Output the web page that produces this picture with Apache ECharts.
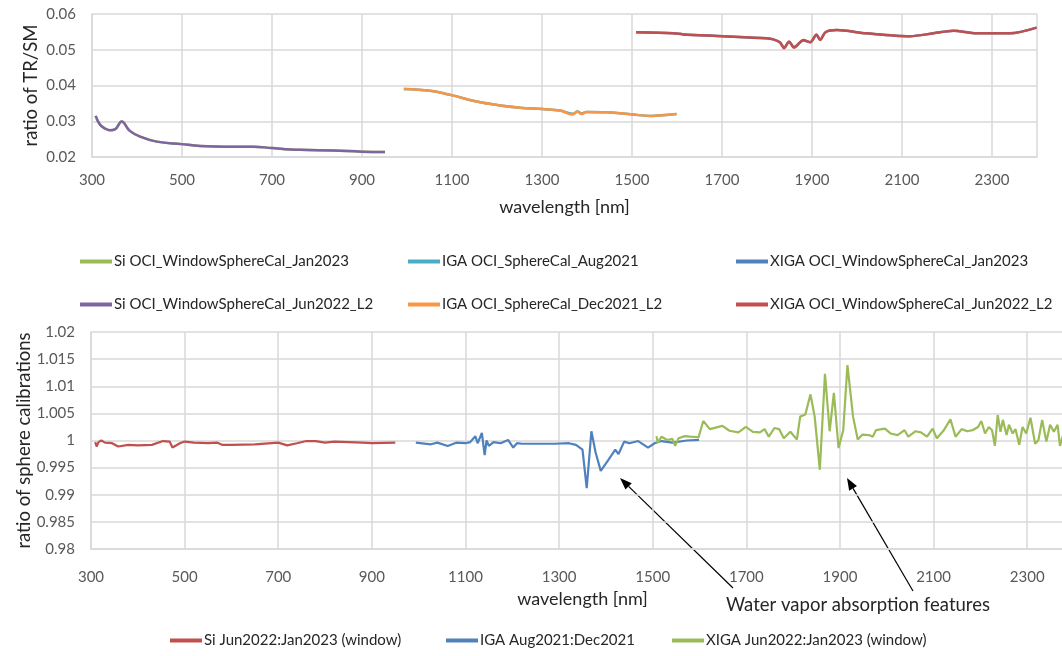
<!DOCTYPE html>
<html>
<head>
<meta charset="utf-8">
<script src="https://cdn.jsdelivr.net/npm/echarts@6/dist/echarts.min.js"></script>
<style>
  html, body { margin: 0; padding: 0; background: #fff; }
  #chart { width: 1062px; height: 656px; }
</style>
</head>
<body>
<div id="chart"></div>
<script>
// top panel: TR/SM ratio per detector
const siWl = [308, 318, 330, 340, 351, 366, 384, 407, 444, 499, 540, 614, 659, 700, 762, 836, 900, 951];
const siJun2022 = [0.0315, 0.0290, 0.0279, 0.0275, 0.0277, 0.0299, 0.0273, 0.0257, 0.0243, 0.0236, 0.0231, 0.0229, 0.0229, 0.0225, 0.0220, 0.0218, 0.0215, 0.0214];
const siJan2023 = [0.0315, 0.0290, 0.0279, 0.0275, 0.0277, 0.0299, 0.0273, 0.0257, 0.0243, 0.0236, 0.0231, 0.0229, 0.0229, 0.0225, 0.0220, 0.0218, 0.0215, 0.0214];

const igaWl = [993, 1051, 1099, 1155, 1207, 1251, 1301, 1340, 1368, 1379, 1388, 1399, 1444, 1501, 1540, 1599];
const igaDec2021 = [0.0390, 0.0385, 0.0373, 0.0355, 0.0344, 0.0338, 0.0334, 0.0330, 0.0319, 0.0327, 0.0320, 0.0326, 0.0325, 0.0319, 0.0315, 0.0320];
const igaAug2021 = [0.0390, 0.0385, 0.0373, 0.0355, 0.0344, 0.0338, 0.0334, 0.0330, 0.0321, 0.0327, 0.0322, 0.0326, 0.0325, 0.0319, 0.0315, 0.0320];

const xigaWl = [1509, 1592, 1614, 1703, 1799, 1814, 1829, 1838, 1849, 1860, 1881, 1896, 1910, 1918, 1930, 1955, 2021, 2118, 2170, 2214, 2266, 2340, 2399];
const xigaJun2022 = [0.0549, 0.0546, 0.0543, 0.0538, 0.0532, 0.0529, 0.0520, 0.0504, 0.0523, 0.0506, 0.0527, 0.0521, 0.0543, 0.0527, 0.0549, 0.0555, 0.0546, 0.0538, 0.0546, 0.0553, 0.0546, 0.0546, 0.0562];
const xigaJan2023 = [0.0549, 0.0546, 0.0543, 0.0538, 0.0532, 0.0529, 0.0521, 0.0506, 0.0522, 0.0508, 0.0526, 0.0521, 0.0541, 0.0528, 0.0549, 0.0555, 0.0546, 0.0538, 0.0546, 0.0553, 0.0546, 0.0546, 0.0562];

// bottom panel: ratio of sphere calibrations
const siRatioWl = [309, 312, 316, 322, 330, 345, 358, 380, 400, 430, 454, 468, 474, 490, 500, 520, 550, 570, 580, 600, 650, 700, 719, 740, 760, 780, 800, 820, 850, 880, 900, 950];
const siRatio = [0.9997, 0.9989, 0.9997, 1.0000, 0.9996, 0.9995, 0.9989, 0.9992, 0.9991, 0.9992, 0.9999, 0.9998, 0.9987, 0.9995, 0.9998, 0.9996, 0.9995, 0.9996, 0.9992, 0.9992, 0.9993, 0.9996, 0.9991, 0.9995, 0.9999, 0.9999, 0.9996, 0.9998, 0.9997, 0.9996, 0.9995, 0.9996];

const igaRatioWl = [994, 1026, 1040, 1062, 1080, 1100, 1110, 1121, 1126, 1135, 1141, 1145, 1150, 1160, 1175, 1191, 1202, 1210, 1221, 1252, 1290, 1321, 1336, 1350, 1359, 1369, 1378, 1389, 1405, 1420, 1427, 1439, 1450, 1469, 1490, 1504, 1519, 1542, 1573, 1599];
const igaRatio = [0.9996, 0.9993, 0.9996, 0.9990, 0.9996, 0.9995, 0.9997, 1.0008, 0.9995, 1.0014, 0.9973, 1.0000, 0.9990, 0.9997, 0.9995, 1.0001, 0.9987, 0.9995, 0.9994, 0.9994, 0.9994, 0.9995, 0.9992, 0.9983, 0.9912, 1.0017, 0.9978, 0.9944, 0.9964, 0.9983, 0.9975, 0.9998, 0.9995, 0.9999, 0.9987, 0.9995, 0.9999, 0.9996, 1.0000, 1.0001];

const xigaRatioWl = [1508, 1511, 1519, 1531, 1542, 1548, 1555, 1569, 1580, 1598, 1608, 1622, 1649, 1664, 1683, 1699, 1714, 1729, 1739, 1748, 1760, 1770, 1780, 1794, 1808, 1815, 1826, 1837, 1846, 1857, 1868, 1878, 1887, 1897, 1907, 1916, 1928, 1938, 1948, 1962, 1970, 1977, 1996, 2008, 2023, 2038, 2046, 2061, 2073, 2086, 2098, 2107, 2122, 2136, 2147, 2160, 2172, 2183, 2195, 2202, 2210, 2218, 2225, 2231, 2237, 2243, 2248, 2256, 2261, 2269, 2275, 2283, 2290, 2298, 2307, 2317, 2324, 2332, 2341, 2349, 2357, 2365, 2370, 2380, 2395];
const xigaRatio = [1.0008, 0.9996, 1.0007, 1.0001, 1.0003, 0.9990, 1.0004, 1.0008, 1.0007, 1.0006, 1.0036, 1.0021, 1.0027, 1.0018, 1.0015, 1.0025, 1.0016, 1.0015, 1.0021, 1.0007, 1.0023, 1.0021, 1.0004, 1.0016, 1.0002, 1.0044, 1.0048, 1.0085, 1.0044, 0.9946, 1.0123, 1.0017, 1.0088, 0.9986, 1.0019, 1.0139, 1.0044, 1.0002, 1.0011, 1.0010, 1.0007, 1.0019, 1.0022, 1.0013, 1.0010, 1.0019, 1.0007, 1.0017, 1.0015, 1.0007, 1.0022, 1.0004, 1.0019, 1.0039, 1.0007, 1.0021, 1.0017, 1.0019, 1.0025, 1.0036, 1.0013, 1.0025, 1.0019, 0.9990, 1.0047, 1.0016, 1.0038, 1.0010, 1.0029, 1.0013, 1.0021, 0.9992, 1.0025, 1.0013, 1.0042, 0.9994, 1.0001, 1.0038, 0.9998, 1.0029, 1.0016, 1.0029, 0.9990, 1.0020, 1.0005];

const FONT = 'Lato, "Liberation Sans", sans-serif';
const GRID_COLOR = '#d9d9d9';
const LABEL_COLOR = '#595959';

const zip = (xs, ys) => xs.map((x, i) => [x, ys[i]]);

function line(name, xs, ys, color, idx, smooth, width) {
  return {
    name: name,
    type: 'line',
    xAxisIndex: idx,
    yAxisIndex: idx,
    data: zip(xs, ys),
    showSymbol: false,
    smooth: smooth,
    lineStyle: { color: color, width: width },
    itemStyle: { color: color },
    animation: false
  };
}

function xAxis(gridIndex) {
  return {
    type: 'value',
    gridIndex: gridIndex,
    min: 300,
    max: 2400,
    interval: 200,
    name: 'wavelength [nm]',
    nameLocation: 'middle',
    nameGap: 41,
    nameTextStyle: { fontFamily: FONT, fontSize: 18, color: '#262626' },
    axisLine: { show: true, lineStyle: { color: GRID_COLOR, width: 1.5 } },
    axisTick: { show: false },
    axisLabel: {
      fontFamily: FONT, fontSize: 15, color: LABEL_COLOR, margin: gridIndex ? 21 : 16,
      showMaxLabel: false,
      formatter: v => String(v)
    },
    splitLine: { show: true, lineStyle: { color: GRID_COLOR, width: 1.5 } }
  };
}

function yAxis(gridIndex, name, min, max, interval, digits) {
  return {
    type: 'value',
    gridIndex: gridIndex,
    min: min,
    max: max,
    interval: interval,
    name: name,
    nameLocation: 'middle',
    nameMoveOverlap: false,
    nameGap: gridIndex ? 57 : 51,
    nameTextStyle: { fontFamily: FONT, fontSize: 18.5, color: '#262626' },
    axisLine: { show: true, lineStyle: { color: GRID_COLOR, width: 1.5 } },
    axisTick: { show: false },
    axisLabel: {
      fontFamily: FONT, fontSize: 15, color: LABEL_COLOR, margin: 16,
      formatter: v => digits ? v.toFixed(digits) : String(+v.toFixed(3))
    },
    splitLine: { show: true, lineStyle: { color: GRID_COLOR, width: 1.5 } }
  };
}

function legend(left, top, names, orient) {
  return {
    left: left,
    top: top,
    padding: 0,
    orient: orient || 'horizontal',
    data: names,
    icon: 'rect',
    itemWidth: 32,
    itemHeight: 4,
    itemGap: 28,
    selectedMode: false,
    textStyle: { fontFamily: FONT, fontSize: 15, color: '#262626', padding: [0, 0, 0, -3] }
  };
}

function arrow(tail, head) {
  const dx = head[0] - tail[0], dy = head[1] - tail[1];
  const len = Math.sqrt(dx * dx + dy * dy);
  const ux = dx / len, uy = dy / len;
  const bx = head[0] - ux * 12, by = head[1] - uy * 12;
  return [
    { type: 'line', shape: { x1: tail[0], y1: tail[1], x2: bx, y2: by }, style: { stroke: '#000', lineWidth: 1.2 } },
    { type: 'polygon', shape: { points: [head, [bx - uy * 4.5, by + ux * 4.5], [bx + uy * 4.5, by - ux * 4.5]] }, style: { fill: '#000' } }
  ];
}

const option = {
  backgroundColor: '#fff',
  animation: false,
  grid: [
    { left: 92, top: 14, width: 945, height: 143, outerBoundsMode: 'none' },
    { left: 91, top: 332, width: 983, height: 217, outerBoundsMode: 'none' }
  ],
  xAxis: [xAxis(0), xAxis(1)],
  yAxis: [
    yAxis(0, 'ratio of TR/SM', 0.02, 0.06, 0.01, 2),
    yAxis(1, 'ratio of sphere calibrations', 0.98, 1.02, 0.005, 0)
  ],
  legend: [
    legend(80, 254, ['Si OCI_WindowSphereCal_Jan2023', 'Si OCI_WindowSphereCal_Jun2022_L2'], 'vertical'),
    legend(408, 254, ['IGA OCI_SphereCal_Aug2021', 'IGA OCI_SphereCal_Dec2021_L2'], 'vertical'),
    legend(736, 254, ['XIGA OCI_WindowSphereCal_Jan2023', 'XIGA OCI_WindowSphereCal_Jun2022_L2'], 'vertical'),
    legend(170, 633, ['Si Jun2022:Jan2023 (window)']),
    legend(446, 633, ['IGA Aug2021:Dec2021']),
    legend(672, 633, ['XIGA Jun2022:Jan2023 (window)'])
  ],
  series: [
    line('Si OCI_WindowSphereCal_Jan2023', siWl, siJan2023, '#9BBB59', 0, 0.4, 2.5),
    line('IGA OCI_SphereCal_Aug2021', igaWl, igaAug2021, '#4BACC6', 0, 0.4, 2.5),
    line('XIGA OCI_WindowSphereCal_Jan2023', xigaWl, xigaJan2023, '#4F81BD', 0, 0.3, 2.5),
    line('Si OCI_WindowSphereCal_Jun2022_L2', siWl, siJun2022, '#8064A2', 0, 0.4, 2.5),
    line('IGA OCI_SphereCal_Dec2021_L2', igaWl, igaDec2021, '#F79646', 0, 0.4, 2.5),
    line('XIGA OCI_WindowSphereCal_Jun2022_L2', xigaWl, xigaJun2022, '#C0504D', 0, 0.3, 2.5),
    line('Si Jun2022:Jan2023 (window)', siRatioWl, siRatio, '#C0504D', 1, false, 2.2),
    line('IGA Aug2021:Dec2021', igaRatioWl, igaRatio, '#4F81BD', 1, false, 2.2),
    line('XIGA Jun2022:Jan2023 (window)', xigaRatioWl, xigaRatio, '#9BBB59', 1, false, 2.2)
  ],
  graphic: [
    ...arrow([733, 588], [620, 478]),
    ...arrow([913, 591], [847, 478]),
    {
      type: 'text',
      left: 726,
      top: 596,
      style: { text: 'Water vapor absorption features', fontFamily: FONT, fontSize: 18.5, fill: '#262626' }
    }
  ]
};

const chart = echarts.init(document.getElementById('chart'));
chart.setOption(option);
</script>
</body>
</html>
